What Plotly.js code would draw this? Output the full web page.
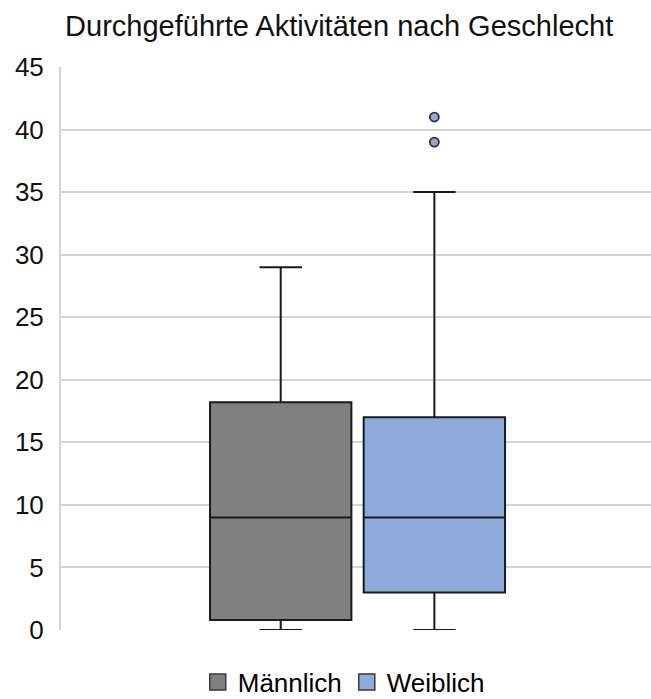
<!DOCTYPE html>
<html>
<head>
<meta charset="utf-8">
<script src="https://cdn.plot.ly/plotly-3.0.1.min.js"></script>
<style>
  html, body { margin: 0; padding: 0; background: #ffffff; }
  #chart { width: 651px; height: 699px; }
</style>
</head>
<body>
<div id="chart"></div>
<script>
// Activity counts by gender: five-number summaries plus outliers
const groups      = ['Männlich', 'Weiblich'];
const minValues   = [0, 0];
const q1Values    = [0.8, 3];
const medians     = [9, 9];
const q3Values    = [18.2, 17];
const maxValues   = [29, 35];
const outliersW   = [39, 41];
const fillColors  = ['#808080', '#8FAADC'];
const yTicks      = [0, 5, 10, 15, 20, 25, 30, 35, 40, 45];

const fontFamily = '"Liberation Sans", Arial, sans-serif';

const traces = groups.map((g, i) => ({
  type: 'box',
  name: g,
  x: [g],
  lowerfence: [minValues[i]],
  q1: [q1Values[i]],
  median: [medians[i]],
  q3: [q3Values[i]],
  upperfence: [maxValues[i]],
  fillcolor: fillColors[i],
  line: { color: '#1a1a1a', width: 2 },
  whiskerwidth: 0.3,
  boxpoints: false,
  showlegend: false,
  hoverinfo: 'skip'
}));

// Outlying values for the female group
traces.push({
  type: 'scatter',
  mode: 'markers',
  x: outliersW.map(() => groups[1]),
  y: outliersW,
  marker: { color: fillColors[1], size: 9, line: { color: '#333333', width: 1.8 } },
  showlegend: false,
  hoverinfo: 'skip'
});

// Legend entries with square swatches
groups.forEach((g, i) => {
  traces.push({
    type: 'scatter',
    mode: 'markers',
    name: g,
    x: [null],
    y: [null],
    marker: { symbol: 'square', color: fillColors[i], size: 18, line: { color: '#3a3a3a', width: 1.5 } },
    showlegend: true,
    hoverinfo: 'skip'
  });
});

const layout = {
  width: 651,
  height: 699,
  margin: { l: 61, r: 0, t: 67, b: 69 },
  paper_bgcolor: '#ffffff',
  plot_bgcolor: '#ffffff',
  font: { family: fontFamily, color: '#000000', size: 26 },
  title: {
    text: 'Durchgeführte Aktivitäten nach Geschlecht',
    font: { family: fontFamily, size: 29, color: '#111111' },
    x: 0.521, xanchor: 'center', xref: 'container',
    y: 0.978, yanchor: 'top', yref: 'container'
  },
  boxgap: 0.08,
  boxgroupgap: 0,
  showlegend: true,
  legend: {
    orientation: 'h',
    x: 0.528, xanchor: 'center', xref: 'container',
    y: 0.024, yanchor: 'middle', yref: 'container',
    font: { family: fontFamily, size: 26, color: '#000000' },
    itemwidth: 30,
    tracegroupgap: 0,
    itemclick: false, itemdoubleclick: false
  },
  xaxis: {
    type: 'category',
    categoryorder: 'array',
    categoryarray: groups,
    range: [-1.43, 2.41],
    showticklabels: false,
    showgrid: false,
    zeroline: false,
    showline: false,
    fixedrange: true
  },
  yaxis: {
    range: [0, 45],
    tickvals: yTicks,
    ticktext: yTicks.map(String),
    showgrid: true,
    gridcolor: '#d4d4d4',
    gridwidth: 2,
    zeroline: false,
    showline: true,
    linecolor: '#d4d4d4',
    linewidth: 2,
    ticks: '',
    ticklabelstandoff: 10,
    tickfont: { family: fontFamily, size: 26, color: '#111111' },
    fixedrange: true
  }
};

Plotly.newPlot('chart', traces, layout, { displayModeBar: false, staticPlot: true });
</script>
</body>
</html>
